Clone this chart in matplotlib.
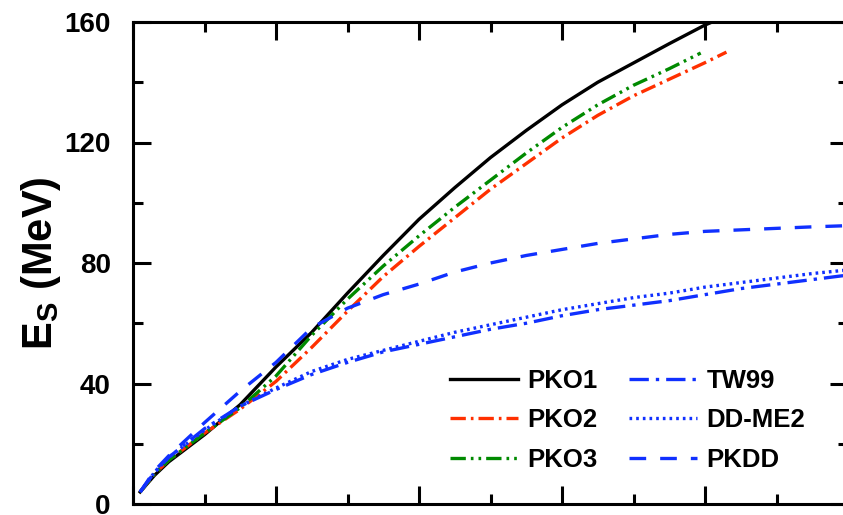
import matplotlib
matplotlib.use("Agg")
import matplotlib.pyplot as plt
from matplotlib.ticker import MultipleLocator, NullFormatter

plt.rcParams["font.family"] = ["Liberation Sans", "DejaVu Sans"]
plt.rcParams["font.weight"] = "bold"

# symmetry energy curves
x_pko1 = [0.05, 0.15, 0.25, 0.5, 0.75, 1.0, 1.25, 1.5, 1.75, 2.0, 2.25, 2.5, 2.75, 3.0, 3.25, 3.5, 3.75, 4.0, 4.05]
y_pko1 = [4, 9.5, 14, 23, 33, 45.5, 57, 70, 82.5, 94.5, 105, 115, 124, 132.5, 140, 146.4, 152.8, 159, 160]

x_pko2 = [0.05, 0.15, 0.25, 0.5, 0.75, 1.0, 1.25, 1.5, 1.75, 2.0, 2.25, 2.5, 2.75, 3.0, 3.25, 3.5, 3.75, 4.0, 4.15]
y_pko2 = [4, 10, 14.5, 23.5, 31.5, 40.7, 52, 64, 75.5, 85.5, 95, 104.5, 113, 121.5, 129, 135.5, 141, 146.5, 150]

x_pko3 = [0.05, 0.15, 0.25, 0.5, 0.75, 1.0, 1.25, 1.5, 1.75, 2.0, 2.25, 2.5, 2.75, 3.0, 3.25, 3.5, 3.75, 3.97]
y_pko3 = [4, 10, 14.5, 23.5, 32, 42.5, 56, 68, 79, 89, 98.5, 107.5, 116.5, 125, 132.5, 139, 144.5, 149.7]

x_dd = [0.05, 0.15, 0.25, 0.5, 0.75, 1.0, 1.25, 1.5, 1.75, 2.0, 2.25, 2.5, 2.75, 3.0, 3.25, 3.5, 3.75, 4.0, 4.25, 4.5, 4.75, 5.0]
y_tw99 = [4, 10.5, 15.5, 25, 32.5, 38, 43, 47, 50.5, 53, 55.5, 58, 60, 62.5, 64.5, 66, 67.5, 69.5, 71.5, 73, 74.5, 76]
y_ddme2 = [4, 10.5, 15.5, 24.5, 32.5, 38.5, 44, 48, 51, 54, 57, 59.5, 62, 64.5, 66.5, 68.5, 70, 72, 73.5, 75, 76.5, 77.7]
y_pkdd = [4, 11, 16, 27, 37.5, 47, 58.5, 65, 69.5, 73, 77, 80, 82.5, 84.5, 86.5, 88, 89.5, 90.5, 91, 91.5, 92, 92.4]

fig = plt.figure(figsize=(8.43, 5.15), dpi=100)
ax = fig.add_axes([133 / 843, 11 / 515, 715 / 843, 482 / 515])

lw = 2.4
ax.plot(x_pko1, y_pko1, color="black", lw=lw, label="PKO1")
ax.plot(x_pko2, y_pko2, color="#ff3000", lw=lw, ls=(0, (4.6, 1.5, 0.8, 1.5)), label="PKO2")
ax.plot(x_pko3, y_pko3, color="#008a00", lw=lw, ls=(0, (4.6, 1.5, 0.8, 1.5, 0.8, 1.5)), label="PKO3")
ax.plot(x_dd, y_tw99, color="#1030ff", lw=lw, ls=(0, (5.8, 2.1, 1.0, 2.1)), label="TW99")
ax.plot(x_dd, y_ddme2, color="#1030ff", lw=lw, ls=(0, (0.8, 1.2)), label="DD-ME2")
ax.plot(x_dd, y_pkdd, color="#1030ff", lw=lw, ls=(0, (5, 4.2)), label="PKDD")

ax.set_xlim(0, 5)
ax.set_ylim(0, 160)
ax.xaxis.set_major_locator(MultipleLocator(1))
ax.xaxis.set_minor_locator(MultipleLocator(0.5))
ax.xaxis.set_major_formatter(NullFormatter())
ax.yaxis.set_major_locator(MultipleLocator(40))
ax.yaxis.set_minor_locator(MultipleLocator(20))
ax.tick_params(which="both", direction="in", top=True, right=True, width=2.2)
ax.tick_params(which="major", length=13)
ax.tick_params(which="minor", length=7)
ax.tick_params(axis="y", which="major", labelsize=20, pad=16)
for s in ax.spines.values():
    s.set_linewidth(2.2)

ax.set_ylabel(r"E$_\mathregular{S}$ (MeV)", fontsize=30, fontweight="bold", labelpad=1)

ax.legend(ncol=2, loc="upper left", bbox_to_anchor=(0.443, 0.28), frameon=False,
          fontsize=18.5, handlelength=2.65, handletextpad=0.35, columnspacing=1.25,
          labelspacing=0.6, borderpad=0, borderaxespad=0)

fig.savefig("out.png", dpi=100)
